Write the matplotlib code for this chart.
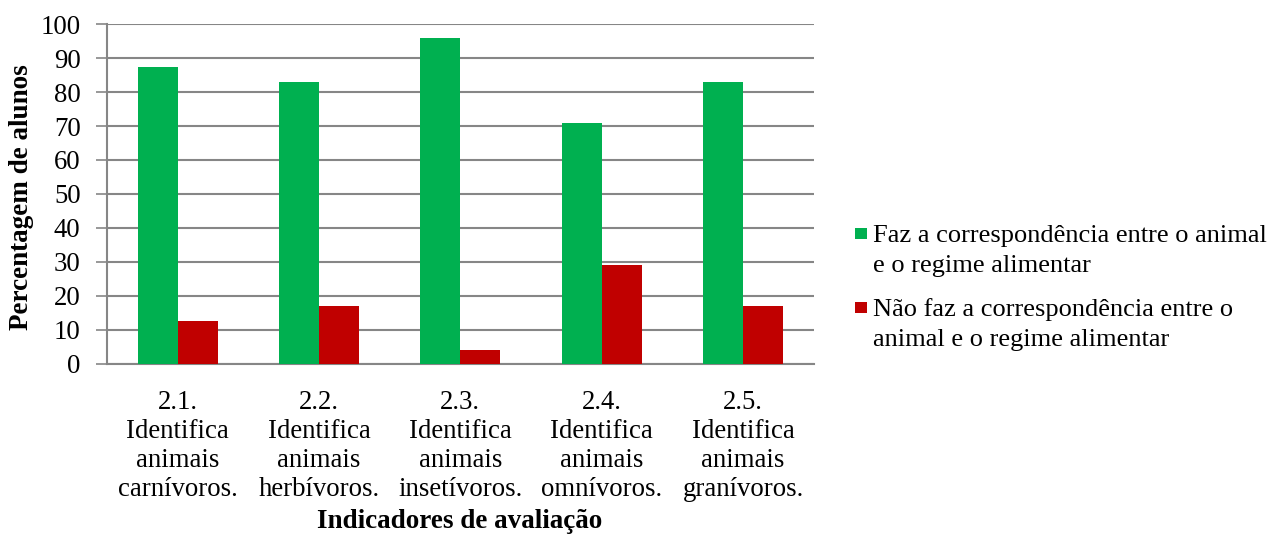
import matplotlib
matplotlib.use("Agg")
import matplotlib.pyplot as plt
from matplotlib.patches import Rectangle
import numpy as np

categories = ["2.1.\nIdentifica\nanimais\ncarnívoros.",
              "2.2.\nIdentifica\nanimais\nherbívoros.",
              "2.3.\nIdentifica\nanimais\ninsetívoros.",
              "2.4.\nIdentifica\nanimais\nomnívoros.",
              "2.5.\nIdentifica\nanimais\ngranívoros."]
faz = [87.5, 83, 96, 71, 83]
nao_faz = [12.5, 17, 4, 29, 17]
series_labels = [["Faz a correspondência entre o animal", "e o regime alimentar"],
                 ["Não faz a correspondência entre o", "animal e o regime alimentar"]]
y_ticks = [0, 10, 20, 30, 40, 50, 60, 70, 80, 90, 100]

GREEN = "#00B050"
RED = "#C00000"
GRID = "#868686"
FS = 19.3
FS_LEG = 19.0
FS_BOLD = 19.5

plt.rcParams['font.family'] = ['Liberation Serif', 'DejaVu Serif']

W, H = 1272, 539
fig = plt.figure(figsize=(W / 100, H / 100), dpi=100)
ax = fig.add_axes([107 / W, 1 - 363.5 / H, (813.7 - 107) / W, (363.5 - 24.3) / H])

x = np.arange(len(categories))
bw = 0.283
ax.bar(x - bw / 2, faz, width=bw, color=GREEN, zorder=3)
ax.bar(x + bw / 2, nao_faz, width=bw, color=RED, zorder=3)

ax.set_xlim(-0.5, len(categories) - 0.5)
ax.set_ylim(0, 100)
ax.set_yticks(y_ticks)
ax.set_yticklabels([str(v) for v in y_ticks], fontsize=FS)
ax.set_xticks(x)
ax.set_xticklabels(categories, fontsize=FS, linespacing=1.22)
ax.tick_params(axis='x', length=0, pad=19)
ax.tick_params(axis='y', length=8, width=1.2, color=GRID, pad=11)
ax.yaxis.grid(True, color=GRID, linewidth=1.5, zorder=0)
ax.set_axisbelow(True)
for s in ['top', 'right']:
    ax.spines[s].set_visible(False)
for s in ['left', 'bottom']:
    ax.spines[s].set_color(GRID)
    ax.spines[s].set_linewidth(1.5)

fig.text(22 / W, 1 - 197 / H, "Percentagem de alunos", fontsize=FS_BOLD, fontweight='bold',
         rotation=90, ha='center', va='center')
fig.text(460 / W, 1 - 522 / H, "Indicadores de avaliação", fontsize=FS_BOLD, fontweight='bold',
         ha='center', va='center')

# legend (handles aligned with first line, as in reference)
line_gap = 30
for col, lab, sq_top, base in [(GREEN, series_labels[0], 227.7, 241.7),
                               (RED, series_labels[1], 301.5, 316.0)]:
    fig.add_artist(Rectangle((855 / W, 1 - (sq_top + 11.6) / H), 11.7 / W, 11.6 / H,
                             transform=fig.transFigure, facecolor=col, edgecolor='none'))
    for i, line in enumerate(lab):
        fig.text(873 / W, 1 - (base + i * line_gap) / H, line, fontsize=FS_LEG,
                 ha='left', va='baseline')

fig.savefig("out.png", dpi=100)
